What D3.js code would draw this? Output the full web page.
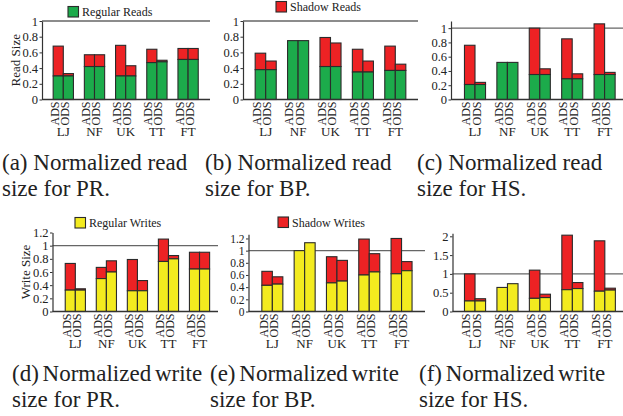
<!DOCTYPE html>
<html>
<head>
<meta charset="utf-8">
<script src="https://cdn.jsdelivr.net/npm/d3@7"></script>
<style>
  body { margin: 0; background: #fff; }
  svg text { font-family: "Liberation Serif", "Times New Roman", serif; fill: #222; }
</style>
</head>
<body>
<svg id="chart" width="623" height="416"></svg>
<script>
// data
const groups = ["LJ", "NF", "UK", "TT", "FT"];
const variants = ["ADS", "ODS"];

// [ADS, ODS] per group
const readPR_regular = [[0.30, 0.30], [0.42, 0.42], [0.30, 0.30], [0.47, 0.48], [0.51, 0.51]];
const readPR_shadow  = [[0.38, 0.03], [0.15, 0.15], [0.39, 0.13], [0.17, 0.02], [0.14, 0.14]];
const readBP_regular = [[0.38, 0.38], [0.75, 0.75], [0.42, 0.42], [0.35, 0.35], [0.37, 0.37]];
const readBP_shadow  = [[0.21, 0.11], [0, 0], [0.37, 0.30], [0.29, 0.14], [0.31, 0.08]];
const readHS_regular = [[0.21, 0.21], [0.52, 0.52], [0.35, 0.35], [0.29, 0.29], [0.35, 0.35]];
const readHS_shadow  = [[0.55, 0.03], [0, 0], [0.65, 0.08], [0.56, 0.07], [0.71, 0.03]];

const writePR_regular = [[0.325, 0.325], [0.50, 0.60], [0.315, 0.315], [0.76, 0.80], [0.645, 0.645]];
const writePR_shadow  = [[0.405, 0.02], [0.17, 0.17], [0.475, 0.155], [0.34, 0.05], [0.255, 0.255]];
const writeBP_regular = [[0.43, 0.45], [1.0, 1.13], [0.47, 0.50], [0.60, 0.65], [0.62, 0.67]];
const writeBP_shadow  = [[0.23, 0.12], [0, 0], [0.43, 0.34], [0.59, 0.30], [0.58, 0.15]];
const writeHS_regular = [[0.28, 0.28], [0.64, 0.74], [0.35, 0.37], [0.58, 0.61], [0.54, 0.57]];
const writeHS_shadow  = [[0.72, 0.06], [0, 0], [0.75, 0.09], [1.45, 0.16], [1.34, 0.05]];

const ticksRead = [0, 0.2, 0.4, 0.6, 0.8, 1];
const ticksWrite = [0, 0.2, 0.4, 0.6, 0.8, 1, 1.2];
const ticksHSWrite = [0, 0.5, 1, 1.5, 2];

const green = "#1cab4b", red = "#ed2224", yellow = "#f3eb1f";

const panels = [
  {regular: readPR_regular, shadow: readPR_shadow, fill: green, ticks: ticksRead, yMax: 1,
   left: 42, right: 210, top: 21, bottom: 99.5, start: 47.7, step: 31.2, yLabel: "Read Size", yLabelX: 20,
   legend: {text: "Regular Reads", fill: green, x: 68, y: 6.5},
   caption: ["(a) Normalized read", "size for PR."], capX: 2, capY: 170},
  {regular: readBP_regular, shadow: readBP_shadow, fill: green, ticks: ticksRead, yMax: 1,
   left: 243, right: 418, top: 21, bottom: 99.5, start: 249.5, step: 32.4,
   legend: {text: "Shadow Reads", fill: red, x: 276, y: 1.5},
   caption: ["(b) Normalized read", "size for BP."], capX: 205, capY: 170},
  {regular: readHS_regular, shadow: readHS_shadow, fill: green, ticks: ticksRead, yMax: 1.1,
   left: 451, right: 623, top: 21, bottom: 99.5, start: 458.8, step: 32.4,
   caption: ["(c) Normalized read", "size for HS."], capX: 417, capY: 170},
  {regular: writePR_regular, shadow: writePR_shadow, fill: yellow, ticks: ticksWrite, yMax: 1.2,
   left: 52.5, right: 218, top: 232.5, bottom: 311.5, start: 59.8, step: 31.05, yLabel: "Write Size", yLabelX: 30,
   legend: {text: "Regular Writes", fill: yellow, x: 75, y: 217.5},
   caption: ["(d) Normalized write", "size for PR."], capX: 12, capY: 381},
  {regular: writeBP_regular, shadow: writeBP_shadow, fill: yellow, ticks: ticksWrite, yMax: 1.27, tickFont: 11.5,
   left: 248.5, right: 425, top: 234.2, bottom: 311.5, start: 256.2, step: 32.3,
   legend: {text: "Shadow Writes", fill: red, x: 278, y: 217},
   caption: ["(e) Normalized write", "size for BP."], capX: 210, capY: 381},
  {regular: writeHS_regular, shadow: writeHS_shadow, fill: yellow, ticks: ticksHSWrite, yMax: 2.08,
   left: 452.5, right: 623, top: 233.3, bottom: 311.5, start: 458.8, step: 32.45,
   caption: ["(f) Normalized write", "size for HS."], capX: 419, capY: 381}
];

const svg = d3.select("#chart");

panels.forEach(p => {
  const g = svg.append("g");
  const y = d3.scaleLinear().domain([0, p.yMax]).range([p.bottom, p.top]);
  const x0 = d3.scaleBand().domain(groups)
    .range([p.start, p.start + groups.length * p.step])
    .paddingInner(0.35).paddingOuter(0.175);
  const x1 = d3.scaleBand().domain(variants).range([0, x0.bandwidth()]);

  // reference line at 1
  g.append("line")
    .attr("x1", p.left).attr("x2", p.right)
    .attr("y1", y(1)).attr("y2", y(1))
    .style("stroke", "#666").style("stroke-width", 1.4);

  // bars
  groups.forEach((grp, gi) => {
    variants.forEach((v, vi) => {
      const reg = p.regular[gi][vi], sh = p.shadow[gi][vi];
      const bx = x0(grp) + x1(v);
      if (sh > 0) {
        g.append("rect")
          .attr("x", bx).attr("width", x1.bandwidth())
          .attr("y", y(reg + sh)).attr("height", y(reg) - y(reg + sh))
          .style("fill", red).style("stroke", "#2b2b2b").style("stroke-width", 1.1);
      }
      g.append("rect")
        .attr("x", bx).attr("width", x1.bandwidth())
        .attr("y", y(reg)).attr("height", y(0) - y(reg))
        .style("fill", p.fill).style("stroke", "#2b2b2b").style("stroke-width", 1.1);

      g.append("text")
        .attr("transform", `translate(${bx + x1.bandwidth() / 2 + 0.5},${p.bottom + 2}) rotate(-90)`)
        .style("text-anchor", "end")
        .style("font-size", "12px")
        .text(v);
    });
    g.append("text")
      .attr("x", x0(grp) + x0.bandwidth() / 2)
      .attr("y", p.bottom + 36.5)
      .style("text-anchor", "middle")
      .style("font-size", "13px")
      .text(grp);
  });

  // axes
  const yAxis = d3.axisLeft(y).tickValues(p.ticks).tickFormat(String)
    .tickSize(2.5).tickSizeOuter(0).tickPadding(1.5);
  const ax = g.append("g").attr("transform", `translate(${p.left},0)`).call(yAxis);
  ax.select(".domain").style("stroke", "#333").style("stroke-width", 1.2);
  ax.selectAll(".tick line").style("stroke", "#333");
  ax.selectAll(".tick text")
    .style("font-family", "'Liberation Serif', 'Times New Roman', serif")
    .style("font-size", (p.tickFont || 12.5) + "px").style("fill", "#222");

  g.append("line")
    .attr("x1", p.left).attr("x2", p.right)
    .attr("y1", p.bottom).attr("y2", p.bottom)
    .style("stroke", "#333").style("stroke-width", 1.4);

  if (p.yLabel) {
    g.append("text")
      .attr("transform", `translate(${p.yLabelX},${(p.top + p.bottom) / 2}) rotate(-90)`)
      .style("text-anchor", "middle")
      .style("font-size", "13px")
      .text(p.yLabel);
  }

  if (p.legend) {
    g.append("rect")
      .attr("x", p.legend.x).attr("y", p.legend.y)
      .attr("width", 10.5).attr("height", 10.5)
      .style("fill", p.legend.fill).style("stroke", "#2b2b2b").style("stroke-width", 1.1);
    g.append("text")
      .attr("x", p.legend.x + 14).attr("y", p.legend.y + 9.5)
      .style("font-size", "12px")
      .text(p.legend.text);
  }

  const cap = g.append("text")
    .attr("x", p.capX).attr("y", p.capY)
    .style("font-size", "23px");
  p.caption.forEach((line, i) => {
    cap.append("tspan").attr("x", p.capX).attr("dy", i === 0 ? 0 : 26)
      .style("word-spacing", i === 0 && p.capY > 300 ? "-2px" : "0px")
      .text(line);
  });
});
</script>
</body>
</html>
